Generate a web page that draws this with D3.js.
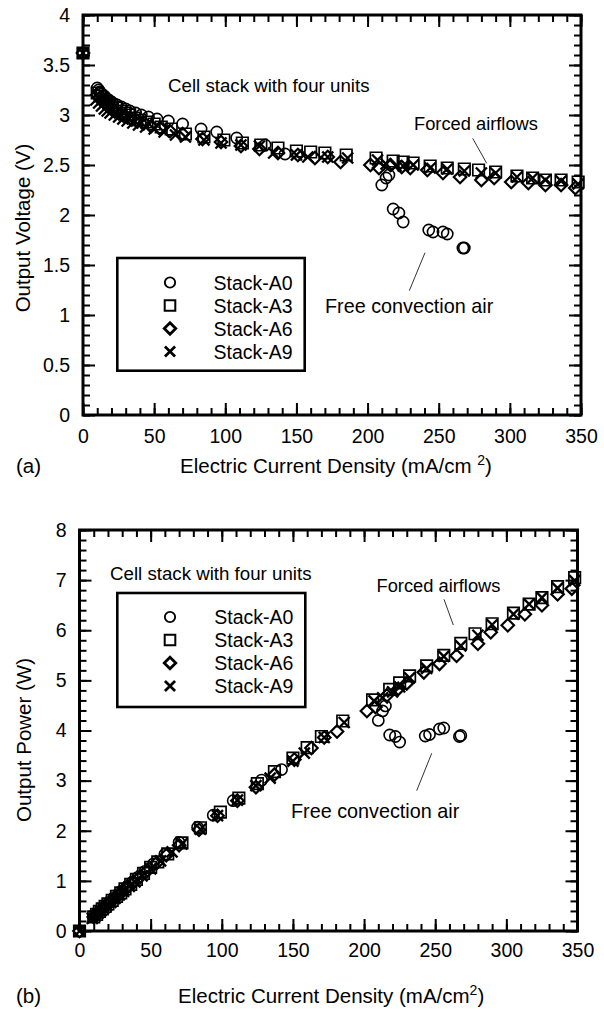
<!DOCTYPE html>
<html>
<head>
<meta charset="utf-8">
<script src="https://cdn.jsdelivr.net/npm/d3@7"></script>
<style>
  body { margin: 0; background: #ffffff; }
  svg { display: block; }
  text { font-family: "Liberation Sans", Arial, Helvetica, sans-serif; fill: #000; }
</style>
</head>
<body>
<svg id="chart" width="604" height="1011"></svg>
<script>
// ---- data ----
const seriesNames = ["Stack-A0", "Stack-A3", "Stack-A6", "Stack-A9"];

const a0Current = [0, 10, 11, 12, 13, 15, 17, 19, 21, 24, 27, 30, 33, 37, 41, 46, 52, 60, 70, 83, 94, 108, 128, 142, 210, 213, 215, 218, 222, 225, 243, 246, 253, 256, 267, 268];
const a0Voltage = [3.62, 3.27, 3.25, 3.23, 3.21, 3.19, 3.16, 3.14, 3.12, 3.10, 3.08, 3.06, 3.04, 3.02, 3.00, 2.98, 2.96, 2.94, 2.91, 2.86, 2.83, 2.77, 2.70, 2.61, 2.30, 2.37, 2.40, 2.06, 2.02, 1.93, 1.85, 1.83, 1.83, 1.81, 1.67, 1.67];
const a0Power = [0, 0.28, 0.31, 0.34, 0.36, 0.42, 0.47, 0.52, 0.57, 0.65, 0.72, 0.80, 0.87, 0.97, 1.07, 1.19, 1.34, 1.53, 1.77, 2.07, 2.31, 2.60, 3.01, 3.22, 4.20, 4.39, 4.49, 3.91, 3.88, 3.77, 3.89, 3.92, 4.03, 4.05, 3.88, 3.90];

const a3Current = [0, 10, 12, 14, 16, 18, 20, 23, 26, 29, 32, 36, 40, 45, 50, 55, 62, 72, 85, 99, 112, 125, 137, 150, 160, 170, 185, 206, 218, 225, 232, 244, 256, 268, 278, 290, 305, 316, 325, 336, 348];
const a3Voltage = [3.62, 3.22, 3.19, 3.16, 3.14, 3.12, 3.10, 3.07, 3.04, 3.02, 3.00, 2.97, 2.95, 2.93, 2.91, 2.88, 2.86, 2.81, 2.78, 2.75, 2.72, 2.70, 2.67, 2.64, 2.63, 2.62, 2.60, 2.57, 2.54, 2.53, 2.52, 2.49, 2.47, 2.46, 2.45, 2.43, 2.39, 2.37, 2.35, 2.35, 2.33];
const a3Power = [0, 0.28, 0.33, 0.39, 0.44, 0.49, 0.54, 0.61, 0.69, 0.76, 0.84, 0.93, 1.03, 1.15, 1.27, 1.38, 1.54, 1.76, 2.06, 2.37, 2.65, 2.94, 3.18, 3.45, 3.66, 3.88, 4.19, 4.61, 4.82, 4.95, 5.09, 5.29, 5.50, 5.74, 5.93, 6.13, 6.34, 6.52, 6.65, 6.87, 7.05];

const a6Current = [0, 10, 12, 14, 16, 18, 21, 24, 27, 30, 34, 38, 43, 48, 54, 61, 70, 84, 97, 111, 124, 137, 151, 163, 172, 181, 202, 208, 216, 224, 230, 242, 253, 265, 280, 289, 301, 313, 325, 336, 346];
const a6Voltage = [3.62, 3.20, 3.17, 3.14, 3.12, 3.09, 3.06, 3.03, 3.01, 2.99, 2.96, 2.94, 2.92, 2.89, 2.87, 2.84, 2.81, 2.76, 2.73, 2.69, 2.66, 2.62, 2.60, 2.57, 2.58, 2.53, 2.50, 2.47, 2.50, 2.48, 2.47, 2.45, 2.42, 2.38, 2.35, 2.37, 2.33, 2.32, 2.30, 2.30, 2.27];
const a6Power = [0, 0.28, 0.33, 0.38, 0.43, 0.48, 0.56, 0.63, 0.71, 0.78, 0.88, 0.97, 1.09, 1.21, 1.35, 1.51, 1.71, 2.02, 2.30, 2.60, 2.87, 3.12, 3.42, 3.65, 3.86, 3.98, 4.39, 4.47, 4.70, 4.83, 4.94, 5.16, 5.33, 5.49, 5.73, 5.96, 6.10, 6.32, 6.50, 6.72, 6.83];

const a9Current = [0, 9, 11, 13, 15, 17, 19, 22, 25, 28, 31, 35, 39, 44, 50, 57, 65, 72, 85, 97, 111, 124, 134, 150, 158, 172, 186, 207, 213, 220, 225, 232, 244, 256, 268, 280, 290, 305, 316, 325, 336, 348];
const a9Voltage = [3.62, 3.15, 3.12, 3.09, 3.06, 3.04, 3.02, 3.00, 2.98, 2.96, 2.94, 2.92, 2.90, 2.88, 2.86, 2.83, 2.80, 2.78, 2.75, 2.72, 2.70, 2.69, 2.62, 2.60, 2.58, 2.58, 2.57, 2.55, 2.51, 2.49, 2.49, 2.50, 2.47, 2.46, 2.44, 2.42, 2.42, 2.38, 2.37, 2.35, 2.34, 2.31];
const a9Power = [0, 0.25, 0.30, 0.35, 0.40, 0.45, 0.50, 0.57, 0.65, 0.72, 0.79, 0.89, 0.98, 1.10, 1.24, 1.40, 1.58, 1.74, 2.03, 2.30, 2.61, 2.90, 3.05, 3.39, 3.55, 3.86, 4.16, 4.59, 4.65, 4.77, 4.87, 5.05, 5.24, 5.48, 5.69, 5.90, 6.11, 6.32, 6.52, 6.65, 6.84, 6.99];

const xTickValues = [0, 50, 100, 150, 200, 250, 300, 350];
const voltageTickValues = [0, 0.5, 1, 1.5, 2, 2.5, 3, 3.5, 4];
const powerTickValues = [0, 1, 2, 3, 4, 5, 6, 7, 8];

// ---- marker shapes ----
const diamondType = {
  draw(ctx, size) {
    const r = Math.sqrt(size) / 2;
    ctx.moveTo(0, -r); ctx.lineTo(r, 0); ctx.lineTo(0, r); ctx.lineTo(-r, 0); ctx.closePath();
  }
};
const crossType = {
  draw(ctx, size) {
    const r = Math.sqrt(size) / 2;
    ctx.moveTo(-r, -r); ctx.lineTo(r, r); ctx.moveTo(r, -r); ctx.lineTo(-r, r);
  }
};
const markers = [
  { type: d3.symbolCircle, size: Math.PI * 5.6 * 5.6, width: 1.6 },
  { type: d3.symbolSquare, size: 11.5 * 11.5, width: 1.7 },
  { type: diamondType, size: 12.5 * 12.5, width: 2.2 },
  { type: crossType, size: 11 * 11, width: 2.4 }
];

const series = [
  { current: a0Current, voltage: a0Voltage, power: a0Power },
  { current: a3Current, voltage: a3Voltage, power: a3Power },
  { current: a6Current, voltage: a6Voltage, power: a6Power },
  { current: a9Current, voltage: a9Voltage, power: a9Power }
];

const svg = d3.select("#chart");
const tickFont = 19.5;

function drawPanel(cfg) {
  const g = svg.append("g");
  const x = d3.scaleLinear().domain([0, 350]).range([cfg.left, cfg.right]);
  const y = d3.scaleLinear().domain([0, cfg.yMax]).range([cfg.bottom, cfg.top]);

  const minorX = x.ticks(35);
  const minorY = y.ticks(40);

  function addAxis(axis, tx, ty) {
    const a = g.append("g").attr("transform", "translate(" + tx + "," + ty + ")").call(axis);
    a.select(".domain").remove();
    a.selectAll(".tick line").attr("stroke", "#000").attr("stroke-width", 2);
    a.selectAll("text").style("font-size", tickFont + "px").attr("fill", "#000")
      .style("font-family", '"Liberation Sans", Arial, sans-serif');
    return a;
  }

  // minor ticks on all sides
  addAxis(d3.axisBottom(x).tickValues(minorX).tickSize(-7).tickFormat(""), 0, cfg.bottom);
  addAxis(d3.axisTop(x).tickValues(minorX).tickSize(-7).tickFormat(""), 0, cfg.top);
  addAxis(d3.axisLeft(y).tickValues(minorY).tickSize(-7).tickFormat(""), cfg.left, 0);
  addAxis(d3.axisRight(y).tickValues(minorY).tickSize(-7).tickFormat(""), cfg.right, 0);

  // major ticks
  addAxis(d3.axisBottom(x).tickValues(xTickValues).tickSize(-12).tickPadding(cfg.xPad).tickFormat(d => String(d)), 0, cfg.bottom);
  addAxis(d3.axisTop(x).tickValues(xTickValues).tickSize(-12).tickFormat(""), 0, cfg.top);
  addAxis(d3.axisLeft(y).tickValues(cfg.yTicks).tickSize(-12).tickPadding(13).tickFormat(d => String(d)), cfg.left, 0);
  addAxis(d3.axisRight(y).tickValues(cfg.yTicks).tickSize(-12).tickFormat(""), cfg.right, 0);

  // frame
  g.append("rect")
    .attr("x", cfg.left).attr("y", cfg.top)
    .attr("width", cfg.right - cfg.left).attr("height", cfg.bottom - cfg.top)
    .attr("fill", "none").attr("stroke", "#000").attr("stroke-width", 3);

  // axis titles
  const xt = g.append("text")
    .attr("x", cfg.xTitleX).attr("y", cfg.xTitleY)
    .style("font-size", "20.5px");
  xt.append("tspan").text("Electric Current Density (mA/cm" + cfg.supGap);
  xt.append("tspan").attr("dy", -8).style("font-size", "14px").text("2");
  xt.append("tspan").attr("dy", 8).text(")");

  g.append("text")
    .attr("transform", "translate(" + cfg.yTitleX + "," + cfg.yTitleY + ") rotate(-90)")
    .attr("text-anchor", "middle")
    .style("font-size", "20.5px")
    .text(cfg.yTitle);

  g.append("text").attr("x", 16).attr("y", cfg.xTitleY).style("font-size", "20.5px").text(cfg.panelLabel);

  // annotations
  cfg.notes.forEach(function(n) {
    g.append("text").attr("x", n.x).attr("y", n.y).style("font-size", n.size + "px").text(n.text);
    if (n.line) {
      g.append("line").attr("x1", n.line[0]).attr("y1", n.line[1]).attr("x2", n.line[2]).attr("y2", n.line[3])
        .attr("stroke", "#333").attr("stroke-width", 1);
    }
  });

  // legend
  const lg = cfg.legend;
  g.append("rect").attr("x", lg.x).attr("y", lg.y).attr("width", lg.w).attr("height", lg.h)
    .attr("fill", "#fff").attr("stroke", "#000").attr("stroke-width", 2.6);
  seriesNames.forEach(function(name, i) {
    const cy = lg.rowY + i * 23;
    const m = markers[i];
    g.append("path")
      .attr("transform", "translate(" + lg.symX + "," + cy + ")")
      .attr("d", d3.symbol().type(m.type).size(m.size * 0.85)())
      .attr("fill", "none").attr("stroke", "#000").attr("stroke-width", i === 2 ? 2.8 : m.width + 0.3);
    g.append("text").attr("x", lg.textX).attr("y", cy + 7).style("font-size", "19.5px").text(name);
  });

  // data markers
  series.forEach(function(s, i) {
    const m = markers[i];
    const pts = s.current.map(function(c, j) { return [c, s[cfg.field][j]]; });
    g.append("g").selectAll("path").data(pts).join("path")
      .attr("transform", function(d) { return "translate(" + x(d[0]) + "," + y(d[1]) + ")"; })
      .attr("d", d3.symbol().type(m.type).size(m.size)())
      .attr("fill", "none").attr("stroke", "#000").attr("stroke-width", m.width);
  });
}

drawPanel({
  left: 83, right: 581, top: 15, bottom: 415, yMax: 4, yTicks: voltageTickValues, field: "voltage",
  xPad: 14, xTitleX: 180, xTitleY: 473, supGap: " ", yTitle: "Output Voltage (V)", yTitleX: 30, yTitleY: 228,
  panelLabel: "(a)",
  notes: [
    { text: "Cell stack with four units", x: 168, y: 91.5, size: 18.7 },
    { text: "Forced airflows", x: 414, y: 130, size: 18.3, line: [472.7, 138.3, 486.7, 163.3] },
    { text: "Free convection air", x: 325, y: 312.7, size: 19.8, line: [425, 252.7, 409.3, 290.7] }
  ],
  legend: { x: 117.3, y: 258, w: 187.4, h: 112.7, rowY: 282.5, symX: 170, textX: 213.5 }
});

drawPanel({
  left: 79.5, right: 577.5, top: 530, bottom: 931, yMax: 8, yTicks: powerTickValues, field: "power",
  xPad: 12, xTitleX: 178, xTitleY: 1003, supGap: "", yTitle: "Output Power (W)", yTitleX: 31, yTitleY: 740,
  panelLabel: "(b)",
  notes: [
    { text: "Cell stack with four units", x: 110, y: 580, size: 18.7 },
    { text: "Forced airflows", x: 376.5, y: 591.7, size: 18.3, line: [444, 599.3, 453.3, 625] },
    { text: "Free convection air", x: 291, y: 818.3, size: 19.8, line: [431.7, 753.3, 416.7, 790.7] }
  ],
  legend: { x: 117.3, y: 593, w: 188, h: 114, rowY: 617, symX: 170, textX: 214.3 }
});
</script>
</body>
</html>
